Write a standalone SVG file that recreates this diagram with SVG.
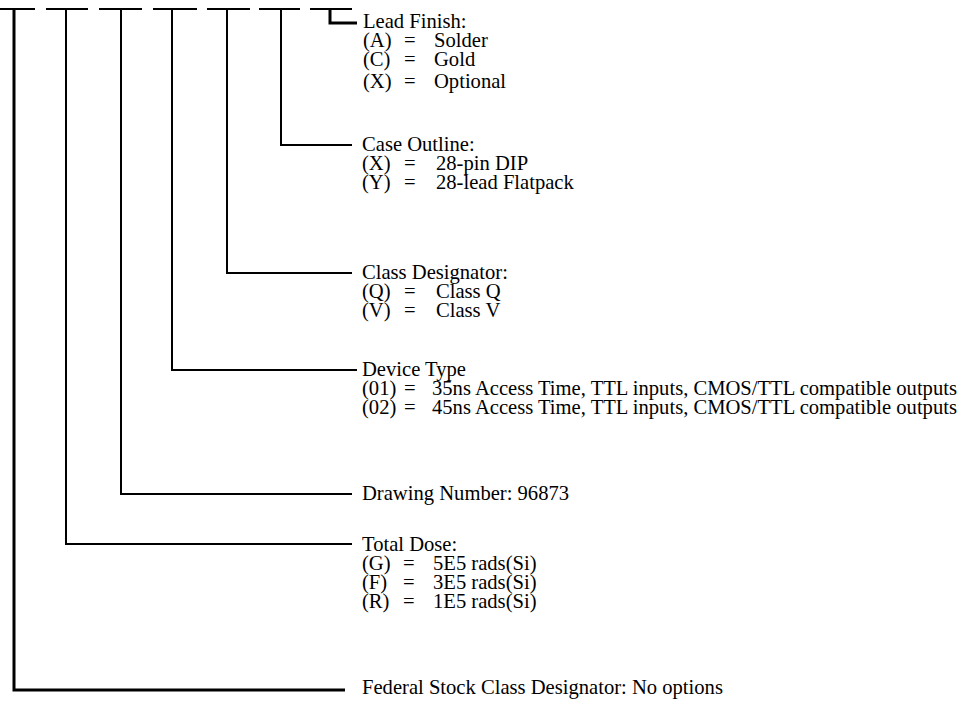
<svg xmlns="http://www.w3.org/2000/svg" width="968" height="702" viewBox="0 0 968 702">
<style>
text{font-family:"Liberation Serif","Times New Roman",serif;font-size:20.6px;fill:#000}
.l{stroke:#000;stroke-width:2;fill:none}
.t{stroke:#000;stroke-width:3;fill:none}
</style>
<rect width="968" height="702" fill="#fff"/>
<g id="connectors">
<path class="l" d="M0 9H35M46 9H88M99 9H142M153 9H197M207 9H250M259 9H300M310 9H352"/>
<path class="t" d="M14 9V690H345"/>
<path class="l" d="M66 9V544H352"/>
<path class="l" d="M121 9V494H352"/>
<path class="l" d="M172 9V370H357"/>
<path class="l" d="M227 9V273H352"/>
<path class="l" d="M281 9V145H352"/>
<path class="t" d="M330 9V23H357"/>
</g>
<g id="lead-finish">
<text x="363" y="28">Lead Finish:</text>
<text x="363" y="47">(A)</text><text x="404" y="47">=</text><text x="434" y="47">Solder</text>
<text x="363" y="66">(C)</text><text x="404" y="66">=</text><text x="434" y="66">Gold</text>
<text x="363" y="88">(X)</text><text x="404" y="88">=</text><text x="434" y="88">Optional</text>
</g>
<g id="case-outline">
<text x="362" y="151">Case Outline:</text>
<text x="362" y="170">(X)</text><text x="404" y="170">=</text><text x="436" y="170">28-pin DIP</text>
<text x="362" y="189">(Y)</text><text x="404" y="189">=</text><text x="436" y="189">28-lead Flatpack</text>
</g>
<g id="class-designator">
<text x="362" y="279">Class Designator:</text>
<text x="362" y="298">(Q)</text><text x="404" y="298">=</text><text x="436" y="298">Class Q</text>
<text x="362" y="317">(V)</text><text x="404" y="317">=</text><text x="436" y="317">Class V</text>
</g>
<g id="device-type">
<text x="362" y="376">Device Type</text>
<text x="362" y="395">(01)</text><text x="404" y="395">=</text><text x="432" y="395">35ns Access Time, TTL inputs, CMOS/TTL compatible outputs</text>
<text x="362" y="414">(02)</text><text x="404" y="414">=</text><text x="432" y="414">45ns Access Time, TTL inputs, CMOS/TTL compatible outputs</text>
</g>
<g id="drawing-number">
<text x="362" y="500">Drawing Number: 96873</text>
</g>
<g id="total-dose">
<text x="362" y="551">Total Dose:</text>
<text x="362" y="570">(G)</text><text x="403" y="570">=</text><text x="433" y="570">5E5 rads(Si)</text>
<text x="362" y="589">(F)</text><text x="403" y="589">=</text><text x="433" y="589">3E5 rads(Si)</text>
<text x="362" y="608">(R)</text><text x="403" y="608">=</text><text x="433" y="608">1E5 rads(Si)</text>
</g>
<g id="federal-stock">
<text x="362" y="694">Federal Stock Class Designator: No options</text>
</g>
</svg>
